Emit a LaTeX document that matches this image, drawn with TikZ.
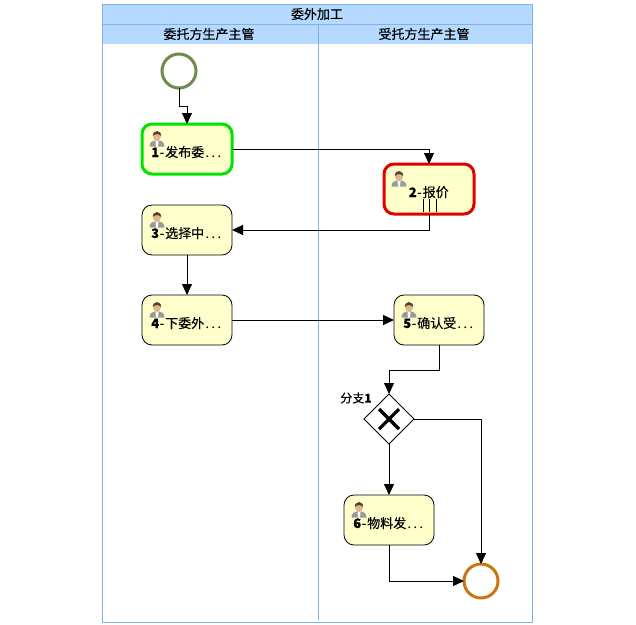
\documentclass[tikz,border=0pt]{standalone}
\usepackage{fontspec}
\setmainfont{Noto Sans CJK SC}
\newfontfamily\semi[FakeBold=0.25]{Noto Sans CJK SC}
\usetikzlibrary{arrows.meta,shapes.geometric}
\definecolor{laneline}{HTML}{7FB2E5}
\definecolor{lanehead}{HTML}{B5D9FF}
\definecolor{taskfill}{HTML}{FFFFCC}
\definecolor{startcol}{HTML}{6F8A4F}
\definecolor{endcol}{HTML}{C8770F}
\definecolor{bodycol}{HTML}{9A9A96}
\definecolor{skincol}{HTML}{E2B48E}
\definecolor{haircol}{HTML}{5A4030}
\newcommand{\dd}{\makebox[6pt]{.}}
\newcommand{\nn}[1]{\makebox[7pt]{\textbf{#1}}\makebox[6.5pt]{-}}
\newcommand{\tasklabel}[1]{\raisebox{-8pt}[0pt][0pt]{#1}}
\tikzset{
  x=1pt,y=-1pt,
  headtext/.style={font=\fontsize{13}{13}\selectfont\semi,inner sep=0},
  taskbox/.style={draw=black,fill=taskfill,rounded corners=10pt,minimum width=90pt,minimum height=50pt,inner sep=0,outer sep=0,line width=0.8pt,font=\fontsize{13}{13}\selectfont\semi},
  hotgreen/.style={draw=green!90!black,line width=3pt},
  hotred/.style={draw=red!90!black,line width=3pt},
  eventc/.style={circle,fill=white,minimum size=34pt,inner sep=0,outer sep=0,line width=3pt},
  flow/.style={draw=black,line width=1pt,-{Triangle[length=11pt,width=10pt]}},
  pics/person/.style={code={
    \fill[bodycol] (-7.5,8.5) .. controls (-7.5,3.5) and (-4,2.5) .. (0,2.5) .. controls (4,2.5) and (7.5,3.5) .. (7.5,8.5) -- cycle;
    \fill[white] (-1.5,3) -- (1.5,3) -- (1,8.5) -- (-1,8.5) -- cycle;
    \fill[skincol] (0,-2) ellipse[x radius=4,y radius=5];
    \fill[haircol] (-4.2,-2) .. controls (-4.2,-8.5) and (4.2,-8.5) .. (4.2,-2) .. controls (2,-4.5) and (-2,-4.5) .. (-4.2,-2) -- cycle;
  }}
}
\begin{document}
\begin{tikzpicture}
\useasboundingbox (0,0) rectangle (636,624);
\fill[white] (0,0) rectangle (636,624);
% pool
\fill[lanehead] (102,4) rectangle (532,44);
\draw[laneline,line width=0.8pt] (102,4) rectangle (532,622);
\draw[laneline,line width=0.8pt] (102,24) -- (532,24);
\draw[laneline,line width=0.8pt] (318,24) -- (318,620);
\node[headtext] (pooltitle) at (317,14) {委外加工};
\node[headtext] (laneA) at (209,34) {委托方生产主管};
\node[headtext] (laneB) at (424,34) {受托方生产主管};
% events
\node[eventc,draw=startcol] (s) at (179,71) {};
\node[eventc,draw=endcol] (e) at (481,581) {};
% tasks
\node[taskbox,hotgreen] (t1) at (187,149) {\tasklabel{\nn{1}发布委\dd\dd\dd}};
\node[taskbox,hotred] (t2) at (429,189) {\tasklabel{\nn{2}报价}};
\node[taskbox] (t3) at (187,230) {\tasklabel{\nn{3}选择中\dd\dd\dd}};
\node[taskbox] (t4) at (187,320) {\tasklabel{\nn{4}下委外\dd\dd\dd}};
\node[taskbox] (t5) at (439,320) {\tasklabel{\nn{5}确认受\dd\dd\dd}};
\node[taskbox] (t6) at (389,520) {\tasklabel{\nn{6}物料发\dd\dd\dd}};
% icons
\foreach \n in {t1,t2,t3,t4,t5,t6} \pic at ([shift={(15,14)}]\n.north west) {person};
% multi-instance marker
\draw[black,line width=1pt] (423,199) -- (423,212) (429.5,199) -- (429.5,212) (436,199) -- (436,212);
% gateway
\node[diamond,aspect=1,draw=black,fill=white,minimum size=50pt,inner sep=0,outer sep=0,line width=0.8pt] (g) at (389,419) {};
\draw[black,line width=3.2pt] ([shift={(-10,-10)}]g.center) -- ([shift={(10,10)}]g.center) ([shift={(-10,10)}]g.center) -- ([shift={(10,-10)}]g.center);
\node[font=\fontsize{12}{12}\selectfont\semi,inner sep=0] (glabel) at (356,398) {分支\textbf{1}};
% flows
\draw[flow] (s.south) -- ++(0,18) -| (t1.north);
\draw[flow] (t1.east) -| (t2.north);
\draw[flow] (t2.south) |- (t3.east);
\draw[flow] (t3.south) -- (t4.north);
\draw[flow] (t4.east) -- (t5.west);
\draw[flow] (t5.south) -- ++(0,25) -| (g.north);
\draw[flow] (g.east) -| (e.north);
\draw[flow] (g.south) -- (t6.north);
\draw[flow] (t6.south) |- (e.west);
\end{tikzpicture}
\end{document}
